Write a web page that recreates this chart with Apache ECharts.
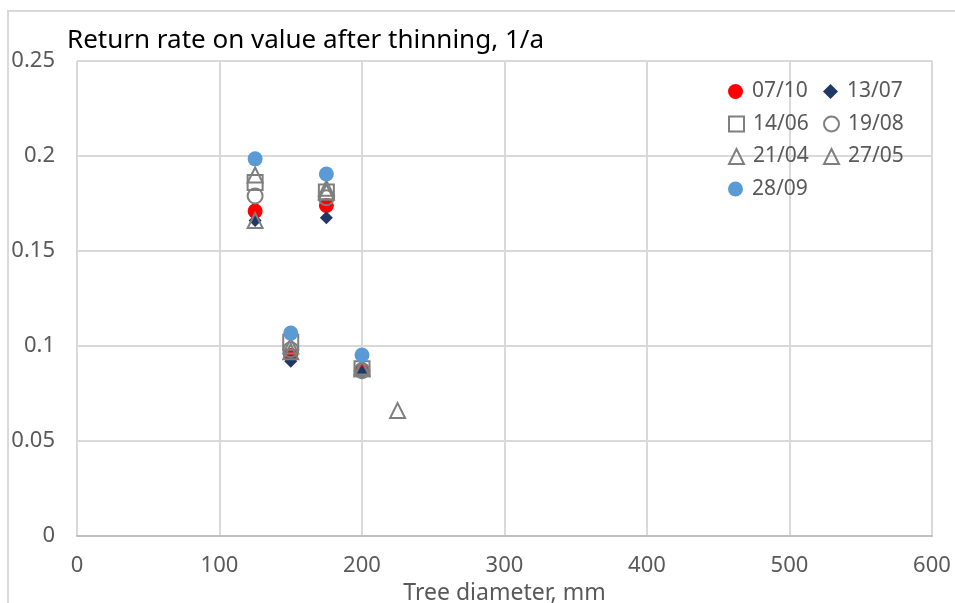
<!DOCTYPE html>
<html lang="en">
<head>
	<meta charset="UTF-8">
	<script src="https://cdn.jsdelivr.net/npm/echarts@6/dist/echarts.min.js"></script>
	<title>Return rate on value after thinning</title>
	<style>
		html, body { margin: 0; padding: 0; background: #fff; }
	</style>
</head>
<body>
	<div id="main" style="width: 955px;height:603px;"></div>

	<script>
		// series names (dates) and point values [diameter mm, rate 1/a]
		var names = ['07/10', '13/07', '14/06', '19/08', '21/04', '27/05', '28/09'];
		var s0710 = [[125, 0.171], [150, 0.095], [175, 0.174], [200, 0.0875]];
		var s1307 = [[125, 0.166], [150, 0.092], [175, 0.1675], [200, 0.086]];
		var s1406 = [[125, 0.186], [150, 0.102], [175, 0.181], [200, 0.088]];
		var s1908 = [[125, 0.179], [150, 0.098], [175, 0.178], [200, 0.087]];
		var s2104 = [[125, 0.166], [150, 0.097], [175, 0.183], [200, 0.088]];
		var s2705 = [[125, 0.190], [150, 0.100], [175, 0.181], [200, 0.089], [225, 0.066]];
		var s2809 = [[125, 0.1985], [150, 0.1068], [175, 0.1905], [200, 0.0953]];
		var allData = [s0710, s1307, s1406, s1908, s2104, s2705, s2809];

		var font = 'Noto Sans';
		var grey = '#7f7f7f';
		var hollow = { color: 'rgba(0,0,0,0)', borderColor: grey, borderWidth: 2, opacity: 1 };
		var styles = [
			{ symbol: 'circle', symbolSize: 15, itemStyle: { color: '#ff0000', opacity: 1 } },
			{ symbol: 'diamond', symbolSize: 13, itemStyle: { color: '#1f3864', opacity: 1 } },
			{ symbol: 'rect', symbolSize: 15, itemStyle: hollow },
			{ symbol: 'circle', symbolSize: 15, itemStyle: hollow },
			{ symbol: 'triangle', symbolSize: 15, itemStyle: hollow },
			{ symbol: 'triangle', symbolSize: 15, itemStyle: hollow },
			{ symbol: 'circle', symbolSize: 15, itemStyle: { color: '#5b9bd5', opacity: 1 } }
		];

		var chart = echarts.init(document.getElementById('main'));

		// one legend per entry, two columns like the original
		var legends = names.map(function (n, i) {
			return {
				data: [n],
				left: 728 + (i % 2) * 95,
				top: 81 + Math.floor(i / 2) * 32.5,
				padding: 0,
				itemWidth: 15,
				itemHeight: 15,
				itemGap: 0,
				textStyle: { fontFamily: font, fontSize: 21, color: '#595959', padding: [0, 0, 0, 4] }
			};
		});

		var series = names.map(function (n, i) {
			return {
				name: n,
				type: 'scatter',
				data: allData[i],
				symbol: styles[i].symbol,
				symbolSize: styles[i].symbolSize,
				itemStyle: styles[i].itemStyle,
				z: 2 + i
			};
		});

		chart.setOption({
			animation: false,
			title: {
				text: 'Return rate on value after thinning, 1/a',
				left: 62,
				top: 23,
				textStyle: { fontFamily: font, fontSize: 26, fontWeight: 'normal', color: '#000' }
			},
			graphic: [{
				type: 'rect',
				shape: { x: 8, y: 11, width: 960, height: 620 },
				style: { fill: 'none', stroke: '#d9d9d9', lineWidth: 2 },
				silent: true
			}],
			legend: legends,
			grid: { left: 77, right: 23, top: 61, bottom: 67, outerBoundsMode: 'none' },
			xAxis: {
				type: 'value',
				min: 0,
				max: 600,
				interval: 100,
				name: 'Tree diameter, mm',
				nameLocation: 'middle',
				nameGap: 42,
				nameTextStyle: { fontFamily: font, fontSize: 23, color: '#595959' },
				axisLine: { show: true, lineStyle: { color: '#bfbfbf', width: 2 } },
				axisTick: { show: false },
				axisLabel: { fontFamily: font, fontSize: 22, color: '#595959', margin: 19 },
				splitLine: { lineStyle: { color: '#d9d9d9', width: 2 } }
			},
			yAxis: {
				type: 'value',
				min: 0,
				max: 0.25,
				interval: 0.05,
				axisLine: { show: false },
				axisTick: { show: false },
				axisLabel: { fontFamily: font, fontSize: 22, color: '#595959', margin: 22 },
				splitLine: { lineStyle: { color: '#d9d9d9', width: 2 } }
			},
			series: series
		});
	</script>
</body>
</html>
